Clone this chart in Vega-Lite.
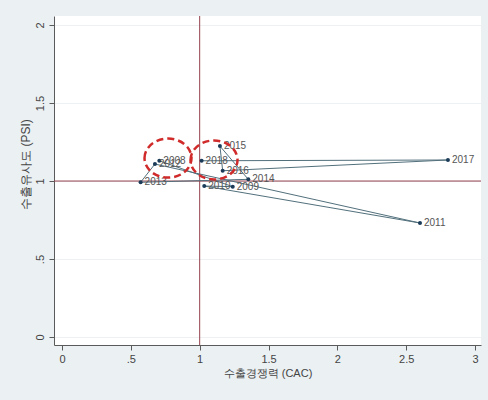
{
  "$schema": "https://vega.github.io/schema/vega-lite/v6.json",
  "autosize": "none",
  "width": 427,
  "height": 329,
  "padding": {"left": 54, "top": 16, "right": 7, "bottom": 55},
  "background": "#EBF0F3",
  "config": {
    "view": {"fill": "white", "stroke": null},
    "font": "Liberation Sans",
    "axis": {"domainColor": "#5a5a5a", "tickColor": "#5a5a5a", "labelColor": "#444", "titleColor": "#444", "labelFontSize": 11, "titleFontSize": 11, "titleFontWeight": "normal", "tickSize": 5}
  },
  "datasets": {
    "psi": [
      {"year": 2008, "cac": 0.707, "psi": 1.13},
      {"year": 2009, "cac": 1.24, "psi": 0.964},
      {"year": 2010, "cac": 1.033, "psi": 0.968},
      {"year": 2011, "cac": 2.6, "psi": 0.731},
      {"year": 2012, "cac": 0.675, "psi": 1.109},
      {"year": 2013, "cac": 0.571, "psi": 0.992},
      {"year": 2014, "cac": 1.353, "psi": 1.011},
      {"year": 2015, "cac": 1.147, "psi": 1.224},
      {"year": 2016, "cac": 1.167, "psi": 1.066},
      {"year": 2017, "cac": 2.803, "psi": 1.135},
      {"year": 2018, "cac": 1.014, "psi": 1.13}
    ],
    "circles": [
      {"cac": 0.77, "psi": 1.147},
      {"cac": 1.104, "psi": 1.135}
    ]
  },
  "layer": [
    {
      "data": {"values": [{"v": 1}]},
      "mark": {"type": "rule", "color": "#94404E", "strokeWidth": 1},
      "encoding": {"x": {"field": "v", "type": "quantitative"}}
    },
    {
      "data": {"values": [{"v": 1}]},
      "mark": {"type": "rule", "color": "#94404E", "strokeWidth": 1},
      "encoding": {"y": {"field": "v", "type": "quantitative"}}
    },
    {
      "data": {"name": "psi"},
      "mark": {"type": "line", "color": "#52707C", "strokeWidth": 1},
      "encoding": {
        "x": {"field": "cac", "type": "quantitative"},
        "y": {"field": "psi", "type": "quantitative"},
        "order": {"field": "year"}
      }
    },
    {
      "data": {"name": "psi"},
      "mark": {"type": "point", "filled": true, "color": "#1B3B58", "size": 16, "opacity": 1},
      "encoding": {
        "x": {"field": "cac", "type": "quantitative"},
        "y": {"field": "psi", "type": "quantitative"}
      }
    },
    {
      "data": {"name": "psi"},
      "mark": {"type": "text", "align": "left", "baseline": "middle", "dx": 4, "fontSize": 10, "color": "#555"},
      "encoding": {
        "x": {"field": "cac", "type": "quantitative"},
        "y": {"field": "psi", "type": "quantitative"},
        "text": {"field": "year", "type": "nominal"}
      }
    },
    {
      "data": {"name": "circles"},
      "mark": {"type": "point", "shape": "M-1,0A1,0.83,0,1,1,1,0A1,0.83,0,1,1,-1,0Z", "size": 2209, "filled": false, "stroke": "#D02A2A", "strokeWidth": 2.5, "strokeDash": [7, 4], "opacity": 1},
      "encoding": {
        "x": {"field": "cac", "type": "quantitative",
          "scale": {"domain": [-0.058, 3.043], "nice": false, "zero": false},
          "axis": {"values": [0, 0.5, 1, 1.5, 2, 2.5, 3], "title": "수출경쟁력 (CAC)", "grid": false, "labelExpr": "datum.value == 0.5 ? '.5' : toString(datum.value)", "labelPadding": 3, "titlePadding": 3}},
        "y": {"field": "psi", "type": "quantitative",
          "scale": {"domain": [-0.051, 2.058], "nice": false, "zero": false},
          "axis": {"values": [0, 0.5, 1, 1.5, 2], "title": "수출유사도 (PSI)", "grid": true, "gridColor": "#EEF1F3", "labelAngle": 270, "labelAlign": "center", "labelBaseline": "bottom", "labelPadding": 4, "labelExpr": "datum.value == 0.5 ? '.5' : toString(datum.value)", "titleX": -29, "titleY": 148, "titleBaseline": "middle", "titleFontSize": 12}}
      }
    }
  ]
}
